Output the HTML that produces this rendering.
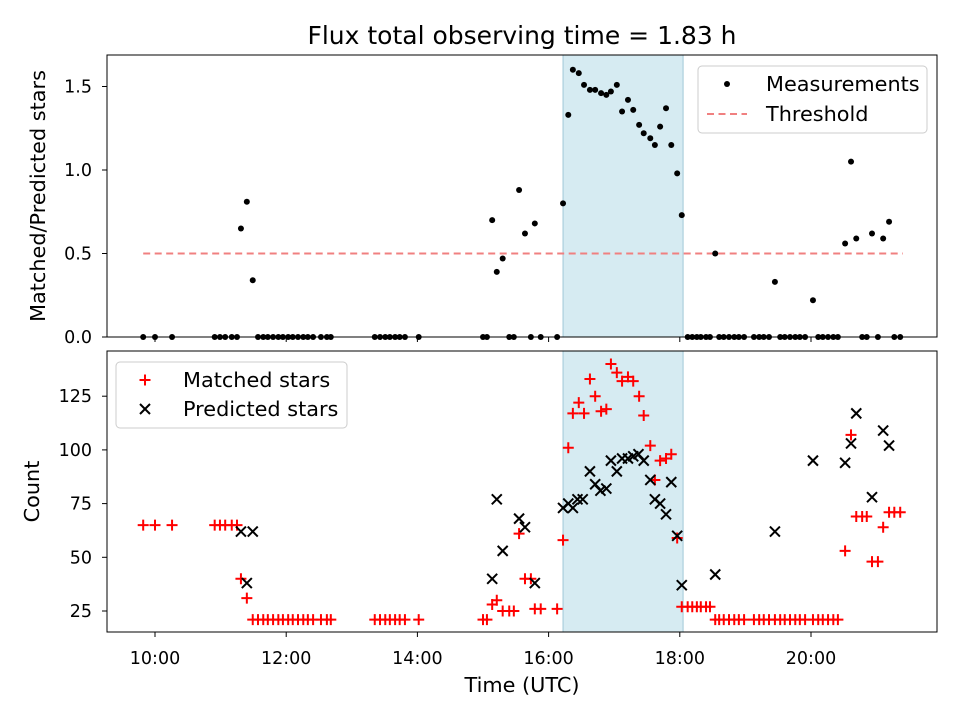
<!DOCTYPE html>
<html><head><meta charset="utf-8"><style>
body{margin:0;background:#fff}
svg text{font-family:"DejaVu Sans","Liberation Sans",sans-serif;fill:#000}
</style></head><body>
<svg id="c" width="960" height="720" xmlns="http://www.w3.org/2000/svg">
<text x="522" y="44" font-size="25" text-anchor="middle">Flux total observing time = 1.83 h</text>
<g id="topPanel"></g>
<g id="botPanel"></g>
</svg>
<script>
const ratioTimes=[9.82,10.0,10.26,10.91,10.99,11.07,11.17,11.25,11.31,11.40,11.49,11.57,11.65,11.72,11.80,11.88,11.95,12.03,12.10,12.18,12.26,12.33,12.41,12.53,12.62,12.68,13.35,13.43,13.51,13.58,13.66,13.73,13.81,14.02,15.00,15.06,15.14,15.21,15.30,15.40,15.47,15.55,15.64,15.73,15.79,15.88,16.13,16.22,16.30,16.37,16.46,16.54,16.63,16.71,16.80,16.88,16.95,17.04,17.12,17.21,17.29,17.38,17.45,17.55,17.62,17.70,17.79,17.87,17.96,18.03,18.12,18.19,18.26,18.32,18.40,18.46,18.54,18.60,18.67,18.75,18.83,18.90,18.98,19.13,19.21,19.28,19.36,19.45,19.53,19.60,19.68,19.76,19.83,19.91,20.03,20.11,20.18,20.26,20.34,20.41,20.52,20.61,20.69,20.78,20.85,20.93,21.02,21.10,21.19,21.27,21.36];
const ratioValues=[0,0,0,0,0,0,0,0,0.65,0.81,0.34,0,0,0,0,0,0,0,0,0,0,0,0,0,0,0,0,0,0,0,0,0,0,0,0,0,0.70,0.39,0.47,0,0,0.88,0.62,0,0.68,0,0,0.80,1.33,1.60,1.58,1.51,1.48,1.48,1.46,1.45,1.47,1.51,1.35,1.42,1.36,1.27,1.22,1.19,1.15,1.26,1.37,1.15,0.98,0.73,0,0,0,0,0,0,0.50,0,0,0,0,0,0,0,0,0,0,0.33,0,0,0,0,0,0,0.22,0,0,0,0,0,0.56,1.05,0.59,0,0,0.62,0,0.59,0.69,0,0];
const matchedTimes=[9.82,10.0,10.26,10.91,10.99,11.07,11.17,11.25,11.31,11.40,11.49,11.57,11.65,11.72,11.80,11.88,11.95,12.03,12.10,12.18,12.26,12.33,12.41,12.53,12.62,12.68,13.35,13.43,13.51,13.58,13.66,13.73,13.81,14.02,15.00,15.06,15.14,15.21,15.30,15.40,15.47,15.55,15.64,15.73,15.79,15.88,16.13,16.22,16.30,16.37,16.46,16.54,16.63,16.71,16.80,16.88,16.95,17.04,17.12,17.21,17.29,17.38,17.45,17.55,17.62,17.70,17.79,17.87,17.96,18.03,18.12,18.19,18.26,18.32,18.40,18.46,18.54,18.60,18.67,18.75,18.83,18.90,18.98,19.13,19.21,19.28,19.36,19.45,19.53,19.60,19.68,19.76,19.83,19.91,20.03,20.11,20.18,20.26,20.34,20.41,20.52,20.61,20.69,20.78,20.85,20.93,21.02,21.10,21.19,21.27,21.36];
const matchedValues=[65,65,65,65,65,65,65,65,40,31,21,21,21,21,21,21,21,21,21,21,21,21,21,21,21,21,21,21,21,21,21,21,21,21,21,21,28,30,25,25,25,61,40,40,26,26,26,58,101,117,122,117,133,125,118,119,140,136,132,134,132,125,116,102,86,95,96,98,59,27,27,27,27,27,27,27,21,21,21,21,21,21,21,21,21,21,21,21,21,21,21,21,21,21,21,21,21,21,21,21,53,107,69,69,69,48,48,64,71,71,71];
const predTimes=[11.31,11.40,11.49,15.14,15.21,15.30,15.55,15.64,15.79,16.22,16.30,16.37,16.44,16.52,16.63,16.71,16.79,16.88,16.95,17.04,17.12,17.21,17.29,17.37,17.45,17.55,17.62,17.70,17.79,17.87,17.96,18.03,18.54,19.45,20.03,20.52,20.61,20.69,20.93,21.10,21.19];
const predValues=[62,38,62,40,77,53,68,64,38,73,75,73,77,77,90,84,81,82,95,90,96,96,97,98,95,86,77,75,70,85,60,37,42,62,95,94,103,117,78,109,102];
const yTicksTop=[0.0,0.5,1.0,1.5];
const yTicksBot=[25,50,75,100,125];
const xTicks=[10,12,14,16,18,20];
const shadeRange=[16.22,18.05];
const threshold=0.5;

const NS="http://www.w3.org/2000/svg";
const X=t=>155+(t-10)*65.6;
const YT=v=>337-v*167;
const YB=c=>611-(c-25)*2.148;
function el(p,tag,a){const e=document.createElementNS(NS,tag);for(const k in a)e.setAttribute(k,a[k]);p.appendChild(e);return e;}
const topG=document.getElementById('topPanel'),botG=document.getElementById('botPanel');

function panel(g,y0,y1,ticks,Y,fmt,label,lx){
  const sh=el(g,'rect',{x:X(shadeRange[0]),y:y0,width:X(shadeRange[1])-X(shadeRange[0]),height:y1-y0,fill:'#add8e6','fill-opacity':0.5,stroke:'#a0c8d8'});
  
  
  ticks.forEach(v=>{const y=Y(v);el(g,'line',{x1:102,x2:107,y1:y,y2:y,stroke:'#000','stroke-width':1});
    const t=el(g,'text',{x:92,y:y+6,'font-size':17.5,'text-anchor':'end'});t.textContent=fmt(v);
    
    });
  xTicks.forEach(h=>{el(g,'line',{x1:X(h),x2:X(h),y1:y1,y2:y1+5,stroke:'#000'});});
  const yl=el(g,'text',{x:lx,y:(y0+y1)/2,'font-size':20.8,'text-anchor':'middle',transform:`rotate(-90 ${lx} ${(y0+y1)/2})`});yl.textContent=label;
  
  
}
panel(topG,55,337,yTicksTop,YT,v=>v.toFixed(1),'Matched/Predicted stars',45);
panel(botG,351,632,yTicksBot,YB,v=>String(v),'Count',39);

const th=el(topG,'line',{x1:X(9.82),x2:X(21.4),y1:YT(threshold),y2:YT(threshold),stroke:'#f08080','stroke-width':2,'stroke-dasharray':'7,4.5'});


ratioTimes.forEach((t,i)=>{const c=el(topG,'circle',{cx:X(t),cy:YT(ratioValues[i]),r:3,fill:'#000'});
  
  });
matchedTimes.forEach((t,i)=>{const x=X(t),y=YB(matchedValues[i]);
  const p=el(botG,'path',{d:`M${x-5.5} ${y}H${x+5.5}M${x} ${y-5.5}V${y+5.5}`,stroke:'#f00','stroke-width':2});
  
  });
predTimes.forEach((t,i)=>{const x=X(t),y=YB(predValues[i]);
  const p=el(botG,'path',{d:`M${x-5} ${y-5}L${x+5} ${y+5}M${x-5} ${y+5}L${x+5} ${y-5}`,stroke:'#000','stroke-width':2});
  
  });

xTicks.forEach(h=>{const t=el(botG,'text',{x:X(h),y:664,'font-size':17.5,'text-anchor':'middle'});t.textContent=(h<10?'0':'')+h+':00';
  
  });
const xl=el(botG,'text',{x:522,y:692,'font-size':20.8,'text-anchor':'middle'});xl.textContent='Time (UTC)';



[[55,337],[351,632]].forEach(([a,b])=>el(document.getElementById('c'),'rect',{x:107,y:a,width:830,height:b-a,fill:'none',stroke:'#000','stroke-width':1}));

const l1=el(topG,'g',{});


el(l1,'rect',{x:698,y:66,width:229,height:67,rx:4,fill:'#fff','fill-opacity':0.8,stroke:'#ccc'});
el(l1,'circle',{cx:727,cy:84,r:3,fill:'#000'});
let t=el(l1,'text',{x:766,y:91,'font-size':20.8});t.textContent='Measurements';
el(l1,'line',{x1:707,x2:747,y1:114,y2:114,stroke:'#f08080','stroke-width':2,'stroke-dasharray':'7,4.5'});
t=el(l1,'text',{x:766,y:121,'font-size':20.8});t.textContent='Threshold';
const l2=el(botG,'g',{});


el(l2,'rect',{x:116,y:362,width:231,height:66,rx:4,fill:'#fff','fill-opacity':0.8,stroke:'#ccc'});
el(l2,'path',{d:'M139.5 380H150.5M145 374.5V385.5',stroke:'#f00','stroke-width':2});
t=el(l2,'text',{x:183,y:387,'font-size':20.8});t.textContent='Matched stars';
el(l2,'path',{d:'M140 404L150 414M140 414L150 404',stroke:'#000','stroke-width':2});
t=el(l2,'text',{x:183,y:416,'font-size':20.8});t.textContent='Predicted stars';
</script>
</body></html>
